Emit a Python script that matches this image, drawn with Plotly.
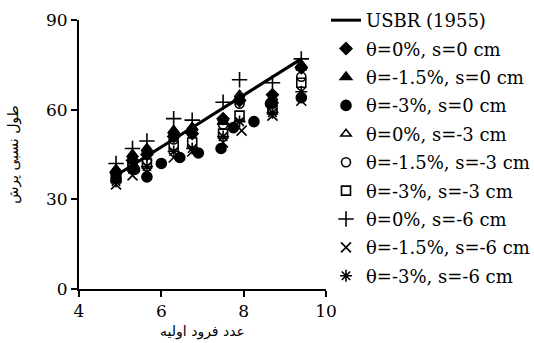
import plotly.graph_objects as go

# USBR (1955) reference line
usbr_fr = [4.9, 9.4]
usbr_l = [38.0, 77.0]

# Measured relative jump length vs. initial Froude number
fr_a = [4.9, 5.3, 5.65, 6.3, 6.75, 7.5, 7.9, 8.7, 9.4]

d_t0_s0 = [39, 43, 45, 51, 52, 57, 63, 65, 74]        # θ=0%, s=0 cm
d_t15_s0 = [40, 45, 47, 53, 54, 56, 64, 63, 75]       # θ=-1.5%, s=0 cm
fr_c = [4.9, 5.35, 5.65, 6.0, 6.45, 6.9, 7.45, 7.75, 8.25, 8.65, 9.4]
d_t3_s0 = [37, 40, 37.5, 42, 44, 45.5, 47, 54, 56, 62, 64]  # θ=-3%, s=0 cm
d_t0_s3 = [39, 44, 46, 52, 54, 57, 65, 64, 74]        # θ=0%, s=-3 cm
d_t15_s3 = [38, 42, 43, 50, 52, 55, 62, 62, 71]       # θ=-1.5%, s=-3 cm
d_t3_s3 = [37, 41, 42, 48, 49, 52, 58, 60, 69]        # θ=-3%, s=-3 cm
d_t0_s6 = [42, 47, 49.5, 57, 56.5, 62.5, 70, 69, 77]  # θ=0%, s=-6 cm
fr_x = [4.9, 5.3, 5.65, 6.3, 6.75, 7.5, 7.95, 8.7, 9.4]
d_t15_s6 = [35, 38, 39, 44, 46, 49, 53, 58, 63]       # θ=-1.5%, s=-6 cm
d_t3_s6 = [36, 40, 41, 46, 47, 51, 56, 59, 66]        # θ=-3%, s=-6 cm

x_ticks = [4, 6, 8, 10]
y_ticks = [0, 30, 60, 90]

series = [
    ("θ=0%, s=0 cm", fr_a, d_t0_s0, "diamond", 9),
    ("θ=-1.5%, s=0 cm", fr_a, d_t15_s0, "triangle-up", 10),
    ("θ=-3%, s=0 cm", fr_c, d_t3_s0, "circle", 10),
    ("θ=0%, s=-3 cm", fr_a, d_t0_s3, "triangle-up-open", 9),
    ("θ=-1.5%, s=-3 cm", fr_a, d_t15_s3, "circle-open", 9),
    ("θ=-3%, s=-3 cm", fr_a, d_t3_s3, "square-open", 9),
    ("θ=0%, s=-6 cm", fr_a, d_t0_s6, "cross-thin-open", 11),
    ("θ=-1.5%, s=-6 cm", fr_x, d_t15_s6, "x-thin-open", 10),
    ("θ=-3%, s=-6 cm", fr_a, d_t3_s6, "asterisk-open", 10),
]

fig = go.Figure()
fig.add_trace(go.Scatter(
    x=usbr_fr, y=usbr_l, mode="lines", name="USBR (1955)",
    line=dict(color="black", width=3), legendgroup="usbr",
))
for i, (name, xs, ys, sym, sz) in enumerate(series):
    fig.add_trace(go.Scatter(
        x=xs, y=ys, mode="markers", name=name, legendgroup=f"g{i}",
        marker=dict(symbol=sym, size=sz, color="black",
                    line=dict(color="black", width=1.6)),
    ))

serif = "DejaVu Serif"
tick_font = dict(family=serif, size=17, color="black")
arabic_font = dict(family="DejaVu Sans", size=14, color="black")

fig.update_layout(
    width=534, height=343,
    margin=dict(l=79, r=208, t=20, b=54, autoexpand=False),
    paper_bgcolor="white", plot_bgcolor="white",
    font=dict(family=serif, color="black", size=16),
    showlegend=True,
    legend=dict(
        x=1.0, y=1.067, xanchor="left", yanchor="top",
        font=dict(family=serif, size=18, color="black"),
        tracegroupgap=2, itemwidth=30, bgcolor="rgba(0,0,0,0)",
        maxheight=343,
    ),
    xaxis=dict(
        range=[4, 10], tickvals=x_ticks, showline=True, linecolor="black",
        linewidth=2, ticks="outside", ticklen=6, tickwidth=2, tickcolor="black",
        showgrid=False, zeroline=False, tickfont=tick_font,
        title=dict(text="عدد فرود اولیه", standoff=6, font=arabic_font),
    ),
    yaxis=dict(
        range=[0, 90], tickvals=y_ticks,
        showline=True, linecolor="black",
        linewidth=2, ticks="outside", ticklen=6, tickwidth=2, tickcolor="black",
        showgrid=False, zeroline=False, tickfont=tick_font,
        title=dict(text="طول نسبی پرش", standoff=24, font=arabic_font),
    ),
)

fig.write_html("out.html")
